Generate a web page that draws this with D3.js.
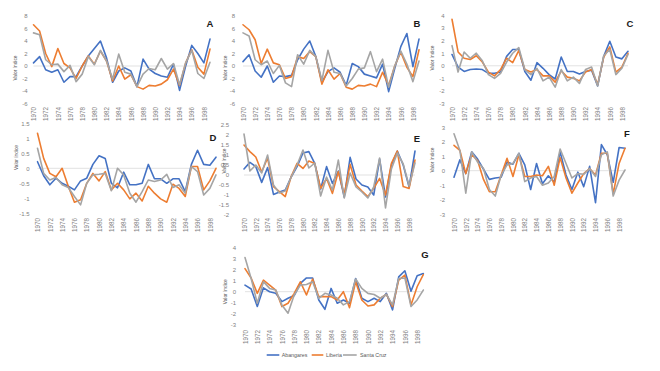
<!DOCTYPE html>
<html><head><meta charset="utf-8">
<script src="https://cdn.jsdelivr.net/npm/d3@7"></script>
<style>
html,body{margin:0;padding:0;background:#fff;}
svg{display:block;font-family:"Liberation Sans",Arial,sans-serif;}
</style></head>
<body>
<svg id="chart" width="660" height="371"></svg>
<script>
const years = [1970,1971,1972,1973,1974,1975,1976,1977,1978,1979,1980,1981,1982,1983,1984,1985,1986,1987,1988,1989,1990,1991,1992,1993,1994,1995,1996,1997,1998,1999];
const yearTicks = [1970,1972,1974,1976,1978,1980,1982,1984,1986,1988,1990,1992,1994,1996,1998];
const seriesNames = ["Abangares","Liberia","Santa Cruz"];
const seriesColors = ["#4472C4","#ED7D31","#A5A5A5"];

const A_abangares = [0.5,1.5,-0.6,-1.0,-0.6,-2.6,-1.7,-1.7,0.0,1.6,2.8,4.0,1.3,-2.6,-0.8,-0.3,-0.8,-3.3,1.1,-0.5,-1.2,-1.6,-1.8,0.3,-3.9,0.0,3.3,2.0,0.5,4.3];
const A_liberia   = [6.6,5.6,2.0,-0.1,2.8,0.4,-0.3,-2.0,0.0,1.6,0.3,2.4,0.8,-2.4,0.0,-2.1,-1.4,-3.3,-3.7,-3.1,-3.2,-2.9,-2.2,-0.5,-3.1,0.5,2.6,-0.2,-1.3,2.7];
const A_santacruz = [5.3,5.0,1.0,0.2,0.3,-0.9,0.1,-2.5,-1.3,1.5,0.2,2.5,0.8,-2.1,1.9,-1.0,-1.3,-3.3,-1.3,-0.4,-0.6,1.2,-0.5,0.4,-3.0,0.5,2.5,-1.2,-2.0,0.6];

const B_abangares = [0.7,1.8,-0.8,-1.8,0.0,-2.6,-1.6,-1.7,-1.5,1.0,2.7,4.0,1.5,-2.6,-0.9,-0.3,-1.0,-3.1,0.4,-0.1,-1.3,-1.6,-1.9,0.3,-4.1,-0.4,3.1,5.2,-0.1,4.3];
const B_liberia   = [6.6,5.8,4.2,0.4,2.7,0.5,0.2,-2.0,-1.7,1.5,1.2,2.3,1.5,-2.9,-0.6,-2.1,-1.2,-3.4,-3.7,-3.1,-3.2,-2.9,-3.3,-1.0,-3.1,0.0,2.2,-0.2,-1.7,2.6];
const B_santacruz = [5.3,4.8,1.0,0.2,0.8,-1.2,0.1,-2.7,-3.3,1.8,0.3,2.5,1.5,-2.3,2.5,-1.0,-1.2,-3.2,-2.0,-0.5,-0.3,2.3,-0.9,1.1,-3.4,0.0,2.4,0.3,-2.5,0.8];

const C_abangares = [0.9,-0.1,-0.45,-0.3,-0.25,-0.3,-0.6,-0.6,-0.5,0.75,1.3,1.3,-0.45,-1.15,0.25,-0.2,-0.7,-1.05,0.7,-0.45,-0.45,-0.65,-0.45,-0.35,-1.6,0.75,1.95,0.7,0.55,1.15];
const C_liberia   = [3.7,1.1,0.6,0.5,0.8,0.3,-0.5,-0.8,-0.3,0.6,0.25,1.2,-0.3,-0.5,-0.3,-0.8,-0.8,-1.3,-0.4,-0.9,-1.0,-1.2,-0.5,-0.3,-1.5,0.7,1.5,-0.5,-0.1,1.0];
const C_santacruz = [1.6,-0.5,1.1,0.6,1.0,0.4,-0.7,-1.0,-0.6,0.3,1.0,1.45,-0.3,-0.7,-0.2,-1.2,-0.9,-1.7,-0.3,-1.2,-0.9,-1.4,-0.3,-0.1,-1.6,0.8,1.3,-0.7,-0.2,0.9];

const D_abangares = [0.22,-0.25,-0.55,-0.33,-0.5,-0.6,-0.72,-0.42,-0.33,0.13,0.42,0.33,-0.5,-0.65,-0.13,-0.55,-0.55,-0.5,0.13,-0.35,-0.35,-0.5,-0.35,-0.35,-0.78,0.13,0.6,0.13,0.1,0.37];
const D_liberia   = [1.17,0.33,-0.17,-0.28,0.0,-0.6,-1.13,-1.05,-0.5,-0.17,-0.42,-0.11,-0.72,-0.5,-0.72,-1.02,-0.83,-1.09,-0.6,-0.83,-1.02,-1.13,-0.53,-0.67,-0.94,0.06,0.06,-0.72,-0.42,0.0];
const D_santacruz = [0.67,-0.17,-0.39,-0.31,-0.55,-0.64,-0.94,-1.22,-0.5,-0.22,-0.2,-0.17,-0.75,0.0,-0.22,-0.83,-1.13,-0.78,-0.39,-0.44,-0.39,-0.2,-0.64,-0.55,-0.83,0.06,-0.11,-0.89,-0.67,-0.22];

const E_abangares = [0.3,0.63,0.42,-0.37,0.37,-0.97,-0.85,-0.75,-0.1,0.42,1.1,1.17,0.58,-0.7,0.42,-0.42,0.2,-1.1,0.88,-0.2,-0.5,-0.6,-1.0,0.8,-1.1,0.5,1.2,0.5,-0.6,1.2];
const E_liberia   = [1.5,1.17,0.9,0.15,0.85,-0.58,-0.83,-1.08,-0.08,0.58,0.33,0.7,0.58,-0.67,-0.17,-0.92,0.17,-1.0,0.53,-0.5,-0.8,-1.08,-0.67,-0.17,-1.0,0.58,1.2,-0.58,-0.67,0.75];
const E_santacruz = [2.05,0.2,0.5,0.1,1.0,-0.5,-0.9,-0.8,-0.1,0.5,1.25,0.35,0.6,-1.05,-0.1,-0.75,0.75,-1.15,0.1,-0.6,-0.85,-1.15,-0.6,0.85,-1.65,0.3,1.1,0.55,-0.55,0.6];

const F_abangares = [-0.45,0.75,-0.2,1.3,0.8,0.1,-0.6,-0.5,-0.45,0.6,0.45,1.2,0.4,-1.3,0.5,-0.9,-0.35,-0.8,1.3,-0.3,-1.3,-0.1,-1.1,0.3,-2.2,1.8,1.1,-0.8,1.6,1.55];
const F_liberia   = [1.75,1.4,-0.2,1.1,0.7,-0.6,-1.45,-1.45,-0.3,0.85,-0.4,1.1,-0.4,-0.4,-0.3,-0.35,0.3,-1.0,0.9,-0.5,-1.55,-0.85,-0.2,0.15,-0.3,1.2,1.2,-1.6,0.5,1.55];
const F_santacruz = [2.55,1.4,-1.55,1.3,0.6,0.15,-1.3,-1.75,-0.3,0.4,0.5,1.2,-0.75,-0.5,-0.4,-1.0,-0.85,-0.4,1.5,0.5,-0.5,-0.2,-0.25,0.15,-0.4,1.1,1.3,-1.75,-0.65,0.05];

const G_abangares = [0.6,0.25,-1.35,0.35,0.0,-0.15,-0.9,-0.6,-0.35,0.75,1.25,1.25,-0.75,-1.6,0.3,-1.05,-0.75,-1.05,1.2,-0.6,-0.9,-0.6,-0.9,-0.15,-1.65,1.35,1.9,0.05,1.45,1.65];
const G_liberia   = [2.1,1.25,-0.15,1.05,0.6,0.15,-1.35,-1.05,-0.15,0.9,-0.3,1.15,-0.45,-0.45,-0.45,-0.75,0.0,-1.45,0.9,-0.75,-1.3,-1.2,-0.6,-0.25,-1.35,1.05,1.5,-1.2,0.45,1.55];
const G_santacruz = [3.1,1.2,-1.05,0.9,0.3,0.15,-1.2,-1.95,-0.3,0.6,0.65,0.9,-0.6,-0.15,-0.3,-0.6,-1.2,-0.9,1.15,0.3,-0.15,-0.25,-0.6,-0.25,-1.2,1.2,1.25,-1.35,-0.75,0.15];

const ticksA = [-6,-4,-2,0,2,4,6,8];
const ticksC = [-3,-2,-1,0,1,2,3,4];
const ticksD = [-1.5,-1,-0.5,0,0.5,1,1.5];
const ticksE = [-2,-1.5,-1,-0.5,0,0.5,1,1.5,2,2.5];
const ticksF = [-3,-2,-1,0,1,2,3];
const ticksG = [-3,-2,-1,0,1,2,3,4];

const panelLetters = ["A","B","C","D","E","F","G"];
const yTitle = "Valor índice";

// layout (pixel boxes) per panel
const panels = [
  {letter:"A", data:[A_abangares,A_liberia,A_santacruz], ticks:ticksA, x0:33.5, x1:210, yTop:16, yBot:103.5, tickRight:27.5, titleX:15, titleY:68, labelTop:107, lx:210, ly:26.5},
  {letter:"B", data:[B_abangares,B_liberia,B_santacruz], ticks:ticksA, x0:243, x1:419, yTop:16, yBot:103.5, tickRight:235, titleX:225, titleY:68, labelTop:107, lx:417, ly:26.5},
  {letter:"C", data:[C_abangares,C_liberia,C_santacruz], ticks:ticksC, x0:452, x1:628, yTop:15.5, yBot:103.5, tickRight:444.5, titleX:432, titleY:58, labelTop:107, lx:630, ly:26.5},
  {letter:"D", data:[D_abangares,D_liberia,D_santacruz], ticks:ticksD, x0:37.5, x1:216, yTop:123.3, yBot:213.3, tickRight:29.5, titleX:16, titleY:157.5, labelTop:218, lx:213, ly:140.5},
  {letter:"E", data:[E_abangares,E_liberia,E_santacruz], ticks:ticksE, x0:244, x1:415, yTop:125, yBot:215, tickRight:229, titleX:224, titleY:161, labelTop:218, lx:417, ly:141.5},
  {letter:"F", data:[F_abangares,F_liberia,F_santacruz], ticks:ticksF, x0:454, x1:625, yTop:127.2, yBot:214.2, tickRight:445, titleX:432, titleY:160, labelTop:218, lx:627, ly:136.5},
  {letter:"G", data:[G_abangares,G_liberia,G_santacruz], ticks:ticksG, x0:245, x1:423.3, yTop:247.7, yBot:324.7, tickRight:236, titleX:225, titleY:291.7, labelTop:330, lx:425, ly:257.5}
];

const svg = d3.select("#chart");
svg.append("rect").attr("width",660).attr("height",371).attr("fill","#fff");

panels.forEach(p => {
  const g = svg.append("g");
  const x = d3.scaleLinear().domain([years[0], years[years.length-1]]).range([p.x0, p.x1]);
  const y = d3.scaleLinear().domain([p.ticks[0], p.ticks[p.ticks.length-1]]).range([p.yBot, p.yTop]);

  // zero line
  g.append("line").attr("x1", p.x0).attr("x2", p.x1).attr("y1", y(0)).attr("y2", y(0))
    .attr("stroke","#d9d9d9").attr("stroke-width",0.8);

  // y axis
  const ya = g.append("g").attr("transform",`translate(${p.tickRight},0)`)
    .call(d3.axisLeft(y).tickValues(p.ticks).tickSize(0).tickPadding(0).tickFormat(d => String(d)));
  ya.select(".domain").remove();
  ya.selectAll("text").attr("fill","#7f7f7f").attr("font-size","6px").attr("x",0)
    .attr("font-family","Liberation Sans, Arial, sans-serif");

  // x axis labels
  const xa = g.append("g").attr("transform",`translate(0,${p.labelTop})`)
    .call(d3.axisBottom(x).tickValues(yearTicks).tickSize(0).tickFormat(d => String(d)));
  xa.select(".domain").remove();
  xa.selectAll("text").attr("fill","#7f7f7f").attr("font-size","6.3px")
    .attr("font-family","Liberation Sans, Arial, sans-serif")
    .attr("x",0).attr("y",0).attr("dy","0.35em")
    .attr("text-anchor","end").attr("transform","rotate(-90)");

  // y title
  g.append("text").attr("transform",`translate(${p.titleX},${p.titleY}) rotate(-90)`)
    .attr("text-anchor","middle").attr("dy","0.35em")
    .attr("font-size","4.8px").attr("fill","#595959").text(yTitle);

  // lines
  const line = d3.line().x((d,i) => x(years[i])).y(d => y(d));
  p.data.forEach((s, k) => {
    g.append("path").datum(s).attr("d", line).attr("fill","none")
      .attr("stroke", seriesColors[k]).attr("stroke-width",1.6)
      .attr("stroke-linejoin","round").attr("stroke-linecap","round");
  });

  // letter
  g.append("text").attr("x",p.lx).attr("y",p.ly).attr("text-anchor","middle")
    .attr("font-size","9.5px").attr("font-weight","bold").attr("fill","#1a1a1a").text(p.letter);
});

// legend
const legendItems = [
  {x1:266.7, x2:279.3, tx:281.7},
  {x1:311.7, x2:323.3, tx:326},
  {x1:343, x2:356.7, tx:360}
];
const lg = svg.append("g");
legendItems.forEach((it,k) => {
  lg.append("line").attr("x1",it.x1).attr("x2",it.x2).attr("y1",355).attr("y2",355)
    .attr("stroke",seriesColors[k]).attr("stroke-width",1.6);
  lg.append("text").attr("x",it.tx).attr("y",355).attr("dy","0.35em")
    .attr("font-size","5.3px").attr("fill","#595959").text(seriesNames[k]);
});
</script>
</body></html>
